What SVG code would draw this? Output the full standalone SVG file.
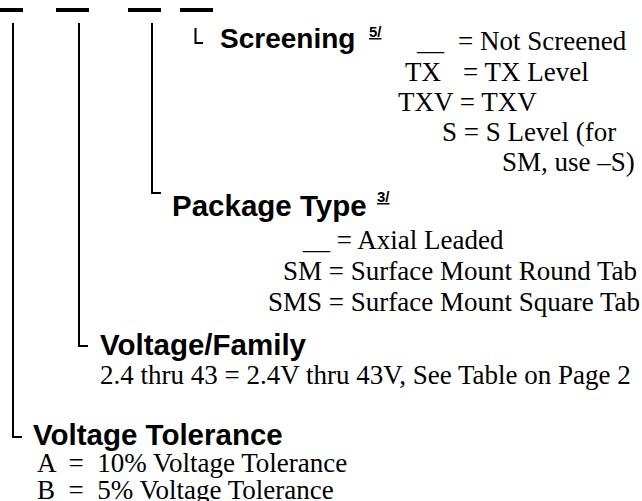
<svg xmlns="http://www.w3.org/2000/svg" width="642" height="501" viewBox="0 0 642 501">
<style>
.h{font-family:"Liberation Sans",Arial,sans-serif;font-weight:bold;font-size:29.5px;fill:#000}
.sup{font-family:"Liberation Sans",Arial,sans-serif;font-weight:bold;font-size:15px;fill:#000;text-decoration:underline}
.t{font-family:"Liberation Serif","Times New Roman",serif;font-size:27px;fill:#000}
.bar{fill:#000}
.ln{stroke:#000;stroke-width:2;fill:none}
</style>
<rect width="642" height="501" fill="#fff"/>
<g id="bars">
<rect class="bar" x="0" y="8" width="23" height="4"/>
<rect class="bar" x="56" y="8" width="33" height="4"/>
<rect class="bar" x="128" y="8" width="33" height="4"/>
<rect class="bar" x="180" y="8" width="33" height="4"/>
</g>
<g id="connectors">
<path class="ln" d="M13 23 V437 H22"/>
<path class="ln" d="M79 23 V346 H88"/>
<path class="ln" d="M152 23 V193 H161"/>
<path class="ln" d="M195.5 28 V43 H203"/>
</g>
<g id="screening">
<text class="h" x="220" y="48" style="font-size:28px">Screening</text>
<text class="sup" x="369" y="37">5/</text>
<text class="t" x="417" y="50">__</text>
<text class="t" x="458" y="50">= Not Screened</text>
<text class="t" x="405" y="81">TX</text>
<text class="t" x="463" y="81">= TX Level</text>
<text class="t" x="398" y="111">TXV = TXV</text>
<text class="t" x="442" y="141">S = S Level (for</text>
<text class="t" x="502" y="171">SM, use –S)</text>
</g>
<g id="package">
<text class="h" x="172" y="216">Package Type</text>
<text class="sup" x="377" y="202">3/</text>
<text class="t" x="303" y="249">__ = Axial Leaded</text>
<text class="t" x="283" y="280">SM = Surface Mount Round Tab</text>
<text class="t" x="268" y="311">SMS = Surface Mount Square Tab</text>
</g>
<g id="voltage-family">
<text class="h" x="100" y="355">Voltage/Family</text>
<text class="t" x="100" y="384">2.4 thru 43 = 2.4V thru 43V, See Table on Page 2</text>
</g>
<g id="voltage-tolerance">
<text class="h" x="33" y="445">Voltage Tolerance</text>
<text class="t" x="37" y="472" xml:space="preserve">A  =  10% Voltage Tolerance</text>
<text class="t" x="37" y="499" xml:space="preserve">B  =  5% Voltage Tolerance</text>
</g>
</svg>
